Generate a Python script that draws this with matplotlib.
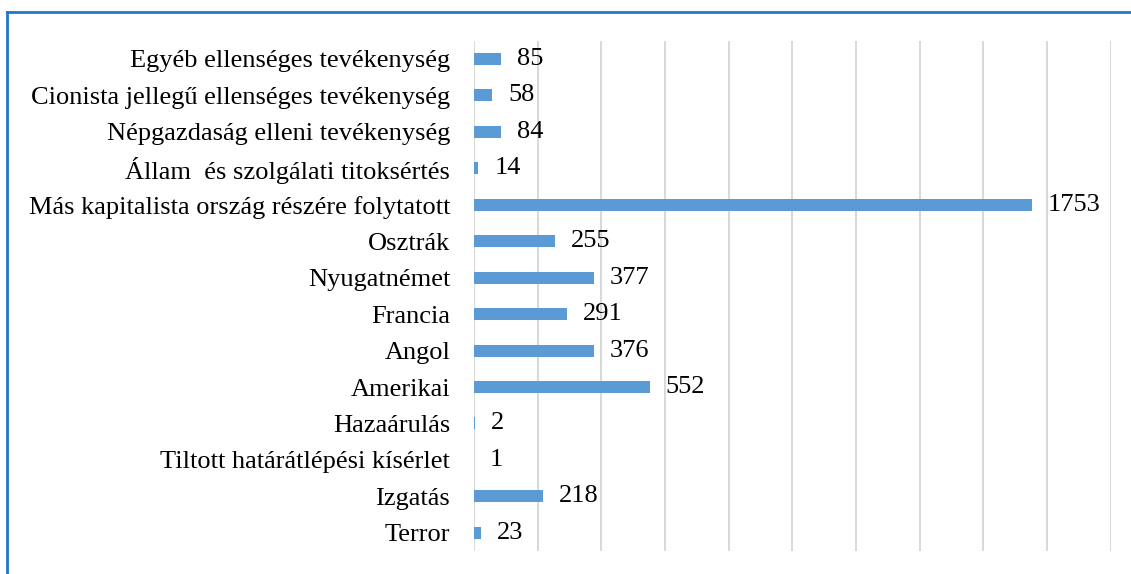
import numpy as np
from matplotlib import pyplot as plt
from matplotlib.lines import Line2D

plt.rcParams['font.family'] = ['Liberation Serif', 'DejaVu Serif']

categories = ["Egyéb ellenséges tevékenység",
              "Cionista jellegű ellenséges tevékenység",
              "Népgazdaság elleni tevékenység",
              "Állam  és szolgálati titoksértés",
              "Más kapitalista ország részére folytatott",
              "Osztrák",
              "Nyugatnémet",
              "Francia",
              "Angol",
              "Amerikai",
              "Hazaárulás",
              "Tiltott határátlépési kísérlet",
              "Izgatás",
              "Terror"]
values = [85, 58, 84, 14, 1753, 255, 377, 291, 376, 552, 2, 1, 218, 23]

fig = plt.figure(figsize=(11.31, 5.74), dpi=100)
ax = fig.add_axes([0.419, 0.04, 0.563, 0.889])

y = np.arange(len(categories))
ax.barh(y, values, height=0.33, color='#5B9BD5', zorder=2)
for yi, v in zip(y, values):
    ax.text(v + 50, yi, str(v), va='center', ha='left', fontsize=19)

ax.set_xlim(0, 2000)
ax.set_ylim(len(categories) - 0.5, -0.5)
ax.set_xticks(np.arange(0, 2001, 200))
ax.set_xticklabels([])
ax.set_yticks(y)
ax.set_yticklabels(categories, fontsize=19)
ax.tick_params(length=0, pad=17)
ax.grid(axis='x', color='#d9d9d9', lw=1.5, zorder=0)
for s in ax.spines.values():
    s.set_visible(False)

# blue frame around the chart (top and left edges visible)
fig.add_artist(Line2D([7/1131, 7/1131], [0, 1 - 12/574], color='#1f78c8', lw=2, transform=fig.transFigure))
fig.add_artist(Line2D([7/1131, 1], [1 - 12/574, 1 - 12/574], color='#1f78c8', lw=2, transform=fig.transFigure))

fig.savefig('out.png', dpi=100)
